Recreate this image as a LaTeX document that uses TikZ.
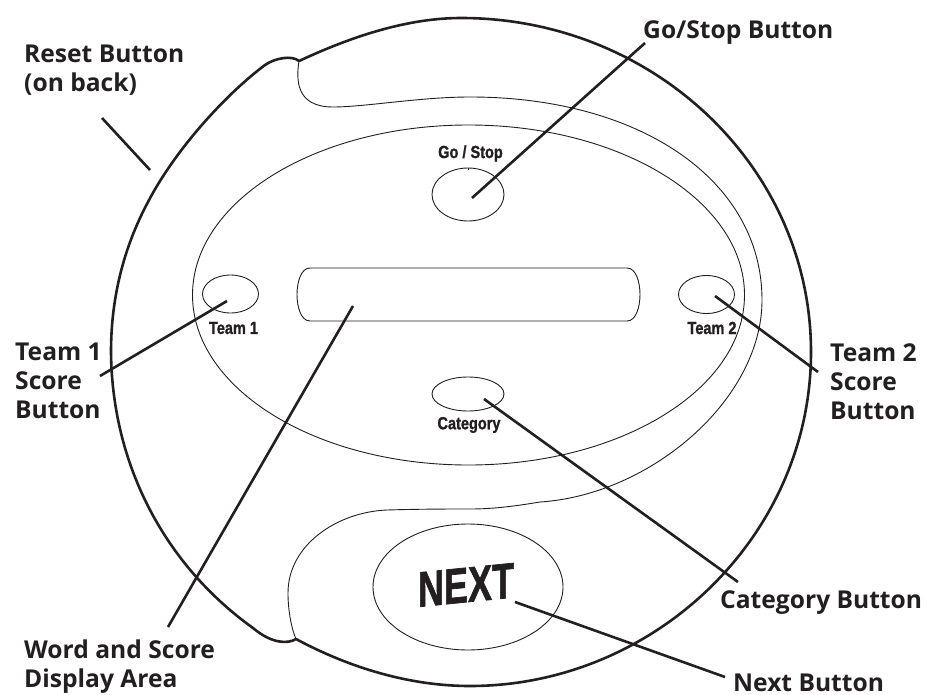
\documentclass[tikz,border=0pt]{standalone}
\usepackage{fontspec}
\setmainfont{Open Sans}
\newfontfamily\cond[BoldFeatures={FakeBold=1.4}]{Liberation Sans}
\definecolor{ink}{RGB}{35,31,32}
\tikzset{
  thin line/.style={line width=0.9pt,draw=ink},
  body line/.style={line width=2.6pt,draw=ink,line cap=round,line join=round},
  leader/.style={line width=2.6pt,draw=ink},
  lab/.style={font=\fontsize{24.6}{29}\selectfont\bfseries,align=left,anchor=north west,inner sep=0pt,text=ink},
  small/.style={font=\cond\fontsize{17.5}{18}\selectfont\bfseries,inner sep=0pt,xscale=0.83,text=ink}
}
\begin{document}
\begin{tikzpicture}[x=1pt,y=-1pt]
\useasboundingbox (0,0) rectangle (928,695);
% body outline
\coordinate (ta) at (299,61);
\coordinate (ba) at (296,639);
\draw[body line] (ta) .. controls (340,42) and (400,18) .. (461,18)
  .. controls (654,18) and (811,167.5) .. (811,352)
  .. controls (811,536.5) and (654,686) .. (470,686)
  .. controls (410,686) and (350,668) .. (ba)
  .. controls (288,644) and (272,644) .. (253,628)
  .. controls (165,565) and (112,465) .. (111,352)
  .. controls (111,295) and (125,245) .. (148,202)
  .. controls (175,150) and (225,95) .. (265,65)
  .. controls (275,58) and (292,55) .. (ta);
% S-shaped inner contour
\draw[thin line] (ta) .. controls (296,80) and (296,107) .. (333,107)
  .. controls (365,107) and (420,97) .. (470,97)
  .. controls (640,97) and (762,180) .. (762,300)
  .. controls (762,400) and (650,495) .. (540,502)
  .. controls (510,507) and (490,509) .. (470,509)
  .. controls (450,509) and (420,509) .. (387,510)
  .. controls (337,512) and (288,545) .. (288,593)
  .. controls (288,612) and (292,630) .. (ba);
% inner ellipse
\draw[thin line] (468.5,295) ellipse [x radius=276,y radius=170];
% display
\draw[thin line] (310,268) -- (627,268) .. controls (636,268) and (640,282) .. (640,294.5)
  .. controls (640,307) and (636,321) .. (627,321) -- (310,321)
  .. controls (301,321) and (297,307) .. (297,294.5) .. controls (297,282) and (301,268) .. (310,268) -- cycle;
% buttons
\draw[thin line] (468,194.5) ellipse [x radius=36,y radius=26.5];
\draw[thin line] (468,168) -- (468,170.5);
\draw[thin line] (230.5,294) ellipse [x radius=28,y radius=19];
\draw[thin line] (706.5,294.5) ellipse [x radius=28,y radius=19];
\draw[thin line] (468,394) ellipse [x radius=36,y radius=17];
\draw[thin line] (468,587) ellipse [x radius=95,y radius=63];
% button texts
\node[small] (tgo) at (470.5,153.5) {Go / Stop};
\node[small] (tt1) at (233.5,328) {Team 1};
\node[small] (tt2) at (712,328) {Team 2};
\node[small] (tcat) at (469,425) {Category};
\node[inner sep=0pt,yslant=0.1,xscale=0.72,text=ink,font=\cond\fontsize{50}{50}\selectfont\bfseries] (tnext) at (466,585) {NEXT};
% labels
\node[lab] (lreset) at (24,45) {Reset Button\\(on back)};
\node[lab] (lgo) at (643,20) {Go/Stop Button};
\node[lab] (lt1) at (15,343) {Team 1\\Score\\Button};
\node[lab] (lt2) at (830,343) {Team 2\\Score\\Button};
\node[lab] (lcat) at (720,590) {Category Button};
\node[lab] (lword) at (24,639.5) {Word and Score\\Display Area};
\node[lab] (lnext) at (733,674) {Next Button};
% leaders
\coordinate (a1) at (102,118); \coordinate (a2) at (150,170);
\coordinate (b1) at (645,43); \coordinate (b2) at (472,198);
\coordinate (c1) at (100,376); \coordinate (c2) at (227,301);
\coordinate (d1) at (818,372); \coordinate (d2) at (715,296);
\coordinate (e1) at (168,627); \coordinate (e2) at (353,306);
\coordinate (f1) at (738,582); \coordinate (f2) at (484,399);
\coordinate (g1) at (725,677); \coordinate (g2) at (515,602);
\draw[leader] (a1) -- (a2);
\draw[leader] (b1) -- (b2);
\draw[leader] (c1) -- (c2);
\draw[leader] (d1) -- (d2);
\draw[leader] (e1) -- (e2);
\draw[leader] (f1) -- (f2);
\draw[leader] (g1) -- (g2);
\end{tikzpicture}
\end{document}
